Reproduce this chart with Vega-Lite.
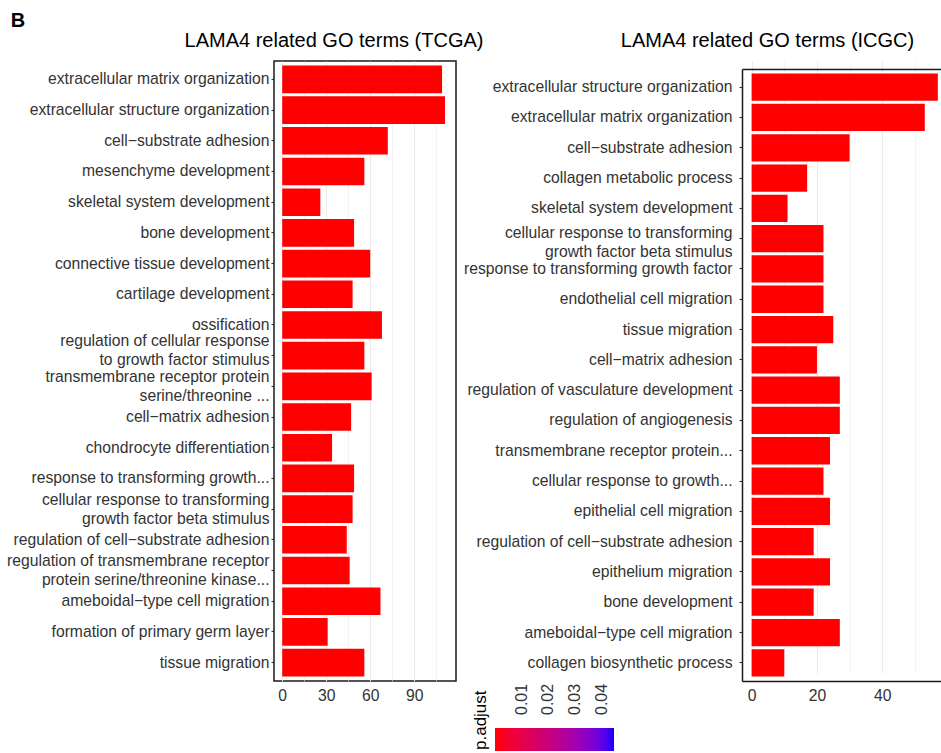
{
  "$schema": "https://vega.github.io/schema/vega-lite/v6.json",
  "padding": {"left": 5, "top": 11, "right": 0, "bottom": 0},
  "background": "white",
  "title": {"text": "B", "anchor": "start", "fontSize": 20, "fontWeight": "bold", "font": "Liberation Sans", "color": "black", "offset": -1, "dx": 5},
  "datasets": {
    "tcga": [
      {"term": "extracellular matrix organization", "count": 109, "padj": 1e-12},
      {"term": "extracellular structure organization", "count": 111, "padj": 1e-12},
      {"term": "cell−substrate adhesion", "count": 72, "padj": 1e-10},
      {"term": "mesenchyme development", "count": 56, "padj": 1e-9},
      {"term": "skeletal system development", "count": 26, "padj": 1e-9},
      {"term": "bone development", "count": 49, "padj": 1e-9},
      {"term": "connective tissue development", "count": 60, "padj": 1e-9},
      {"term": "cartilage development", "count": 48, "padj": 1e-9},
      {"term": "ossification", "count": 68, "padj": 1e-9},
      {"term": "regulation of cellular response \nto growth factor stimulus", "count": 56, "padj": 1e-9},
      {"term": "transmembrane receptor protein \nserine/threonine ...", "count": 61, "padj": 1e-9},
      {"term": "cell−matrix adhesion", "count": 47, "padj": 1e-9},
      {"term": "chondrocyte differentiation", "count": 34, "padj": 1e-9},
      {"term": "response to transforming growth...", "count": 49, "padj": 1e-9},
      {"term": "cellular response to transforming \ngrowth factor beta stimulus", "count": 48, "padj": 1e-9},
      {"term": "regulation of cell−substrate adhesion", "count": 44, "padj": 1e-9},
      {"term": "regulation of transmembrane receptor \nprotein serine/threonine kinase...", "count": 46, "padj": 1e-9},
      {"term": "ameboidal−type cell migration", "count": 67, "padj": 1e-9},
      {"term": "formation of primary germ layer", "count": 31, "padj": 1e-9},
      {"term": "tissue migration", "count": 56, "padj": 1e-9}
    ],
    "icgc": [
      {"term": "extracellular structure organization", "count": 57, "padj": 1e-12},
      {"term": "extracellular matrix organization", "count": 53, "padj": 1e-12},
      {"term": "cell−substrate adhesion", "count": 30, "padj": 1e-9},
      {"term": "collagen metabolic process", "count": 17, "padj": 1e-8},
      {"term": "skeletal system development", "count": 11, "padj": 1e-7},
      {"term": "cellular response to transforming \ngrowth factor beta stimulus", "count": 22, "padj": 1e-7},
      {"term": "response to transforming growth factor", "count": 22, "padj": 1e-7},
      {"term": "endothelial cell migration", "count": 22, "padj": 1e-7},
      {"term": "tissue migration", "count": 25, "padj": 1e-7},
      {"term": "cell−matrix adhesion", "count": 20, "padj": 1e-7},
      {"term": "regulation of vasculature development", "count": 27, "padj": 1e-7},
      {"term": "regulation of angiogenesis", "count": 27, "padj": 1e-7},
      {"term": "transmembrane receptor protein...", "count": 24, "padj": 1e-7},
      {"term": "cellular response to growth...", "count": 22, "padj": 1e-7},
      {"term": "epithelial cell migration", "count": 24, "padj": 1e-7},
      {"term": "regulation of cell−substrate adhesion", "count": 19, "padj": 1e-7},
      {"term": "epithelium migration", "count": 24, "padj": 1e-7},
      {"term": "bone development", "count": 19, "padj": 1e-7},
      {"term": "ameboidal−type cell migration", "count": 27, "padj": 1e-7},
      {"term": "collagen biosynthetic process", "count": 10, "padj": 1e-7}
    ]
  },
  "bounds": "full",
  "spacing": -22,
  "resolve": {"scale": {"color": "shared"}, "legend": {"color": "shared"}},
  "hconcat": [
    {
      "width": 182,
      "height": 620,
      "title": {"text": "LAMA4 related GO terms (TCGA)", "fontSize": 20, "fontWeight": "normal", "font": "Liberation Sans", "color": "black", "anchor": "middle", "dx": -31, "offset": 10},
      "data": {"name": "tcga"},
      "mark": {"type": "bar"},
      "encoding": {
        "y": {
          "field": "term", "type": "nominal", "sort": null,
          "scale": {"paddingInner": 0.1, "paddingOuter": 0.15},
          "axis": {"title": null, "labelExpr": "split(datum.label, '\\n')", "labelPadding": 2, "tickSize": 3,
                   "labelOffset": {"condition": [
                     {"test": "indexof(datum.value, 'regulation of cellular response') === 0", "value": -15},
                     {"test": "indexof(datum.value, '\\n') >= 0", "value": -9.5}
                   ], "value": 0}}
        },
        "x": {
          "field": "count", "type": "quantitative",
          "scale": {"domain": [-5.6, 118.5], "nice": false},
          "axis": {"title": null, "values": [0, 15, 30, 45, 60, 75, 90, 105], "labelExpr": "datum.value % 30 === 0 ? datum.label : ''",
                   "gridWidth": {"condition": {"test": "datum.value % 30 === 0", "value": 1.1}, "value": 0.6}}
        },
        "color": {
          "field": "padj", "type": "quantitative",
          "scale": {"domain": [0, 0.0445], "range": ["#FF0000", "#0000FF"], "interpolate": "lab"},
          "legend": {
            "title": "p.adjust", "orient": "none", "legendX": 198, "legendY": 667, "direction": "horizontal",
            "gradientLength": 119, "gradientThickness": 23, "gradientStrokeWidth": 0,
            "values": [0.01, 0.02, 0.03, 0.04], "format": ".2f",
            "labelFontSize": 16, "labelFont": "Liberation Sans", "labelColor": "#333333",
            "titleFontSize": 17, "titleFont": "Liberation Sans", "titleFontWeight": "normal", "titleColor": "black", "titleOrient": "left",
            "encoding": {
              "labels": {"angle": {"value": -90}, "align": {"value": "left"}, "baseline": {"value": "middle"}, "y": {"value": -13}},
              "title": {"angle": {"value": -90}, "dx": {"value": -10}, "dy": {"value": 9}}
            }
          }
        }
      }
    },
    {
      "width": 205,
      "height": 620,
      "view": {"stroke": null},
      "title": {"text": "LAMA4 related GO terms (ICGC)", "fontSize": 20, "fontWeight": "normal", "font": "Liberation Sans", "color": "black", "anchor": "middle", "dx": -77, "offset": 10},
      "data": {"name": "icgc"},
      "layer": [
        {
          "mark": {"type": "bar"},
          "encoding": {
            "y": {
              "field": "term", "type": "nominal", "sort": null,
              "scale": {"paddingInner": 0.1, "paddingOuter": 0.15, "range": [8, 620]},
              "axis": {"title": null, "labelExpr": "split(datum.label, '\\n')", "labelPadding": 7, "tickSize": 3,
                       "domain": true, "domainColor": "#1a1a1a", "domainWidth": 1.5,
                       "labelOffset": {"condition": {"test": "indexof(datum.value, '\\n') >= 0", "value": -5.5}, "value": 0}}
            },
            "x": {
              "field": "count", "type": "quantitative",
              "scale": {"domain": [-2.94, 59.8], "nice": false},
              "axis": {"title": null, "values": [0, 10, 20, 30, 40, 50], "labelExpr": "datum.value % 20 === 0 ? datum.label : ''",
                       "domain": true, "domainColor": "#1a1a1a", "domainWidth": 1.5,
                       "gridWidth": {"condition": {"test": "datum.value % 20 === 0", "value": 1.1}, "value": 0.6}}
            },
            "color": {
              "field": "padj", "type": "quantitative",
              "scale": {"domain": [0, 0.0445], "range": ["#FF0000", "#0000FF"], "interpolate": "lab"},
              "legend": {
                "title": "p.adjust", "orient": "none", "legendX": 198, "legendY": 667, "direction": "horizontal",
                "gradientLength": 119, "gradientThickness": 23, "gradientStrokeWidth": 0,
                "values": [0.01, 0.02, 0.03, 0.04], "format": ".2f",
                "labelFontSize": 16, "labelFont": "Liberation Sans", "labelColor": "#333333",
                "titleFontSize": 17, "titleFont": "Liberation Sans", "titleFontWeight": "normal", "titleColor": "black", "titleOrient": "left",
                "encoding": {
                  "labels": {"angle": {"value": -90}, "align": {"value": "left"}, "baseline": {"value": "middle"}, "y": {"value": -13}},
                  "title": {"angle": {"value": -90}, "dx": {"value": -10}, "dy": {"value": 9}}
                }
              }
            }
          }
        },
        {
          "mark": {"type": "bar", "opacity": 0},
          "encoding": {
            "y": {"field": "term", "type": "nominal", "sort": null},
            "x": {"field": "count", "type": "quantitative",
                  "axis": {"orient": "top", "title": null, "labels": false, "ticks": false, "grid": false,
                           "domain": true, "domainColor": "#1a1a1a", "domainWidth": 1.5, "offset": -8}}
          }
        }
      ],
      "resolve": {"axis": {"x": "independent"}}
    }
  ],
  "config": {
    "font": "Liberation Sans",
    "view": {"stroke": "#1a1a1a", "strokeWidth": 1.5},
    "bar": {"fill": "#FF0000"},
    "axis": {
      "domain": false,
      "labelFont": "Liberation Sans",
      "labelFontSize": 15.7,
      "labelColor": "#333333",
      "labelLimit": 500,
      "labelLineHeight": 19,
      "gridColor": "#EBEBEB",
      "gridWidth": 1.1,
      "tickColor": "#333333",
      "tickWidth": 1.1,
      "bandPosition": 0.5
    },
    "axisX": {"ticks": false, "labelPadding": 7, "labelFlush": false, "labelOverlap": false},
    "axisY": {"labelOverlap": false}
  }
}
